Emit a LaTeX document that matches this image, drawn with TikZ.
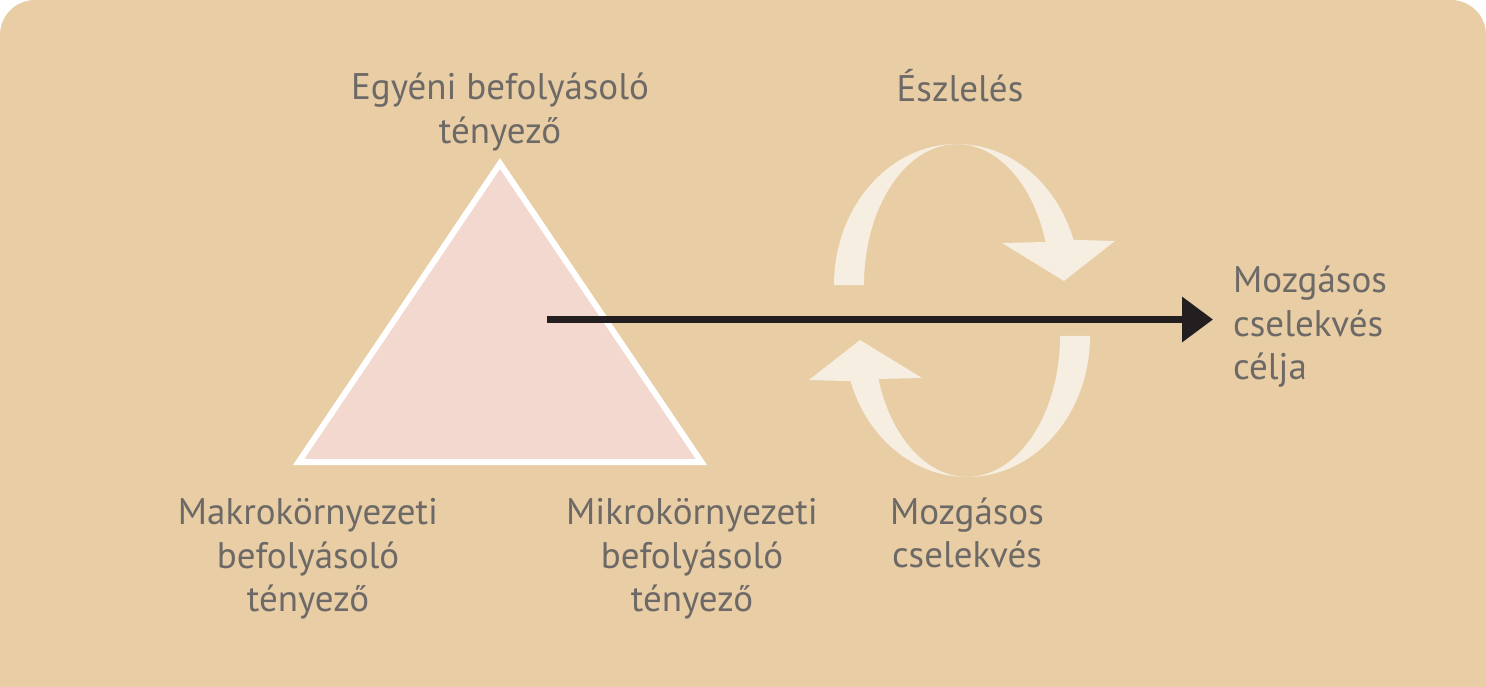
\documentclass[tikz,border=0pt]{standalone}
\usepackage{fontspec}
\setmainfont{PT Sans}
\usetikzlibrary{arrows.meta}

\definecolor{bgsand}{HTML}{E8CDA5}
\definecolor{trifill}{HTML}{F2D8CE}
\definecolor{cycfill}{HTML}{F6EEE1}
\definecolor{txtgray}{HTML}{6D6966}
\definecolor{arrblack}{HTML}{231F20}

\tikzset{
  lbl/.style={text=txtgray, font=\fontsize{37}{43.5}\selectfont, align=center, inner sep=0pt},
  cycarrow/.style={fill=cycfill}
}

\begin{document}
\begin{tikzpicture}[x=1pt, y=-1pt]
    \useasboundingbox (0,0) rectangle (1486,687);

    % background panel
    \begin{scope}
      \clip (0,0) rectangle (1486,687);
      \fill[bgsand, rounded corners=35pt] (0,0) rectangle (1486,760);
    \end{scope}

    % triangle of factors
    \coordinate (apex) at (500,163.5);
    \coordinate (bl) at (298.6,462);
    \coordinate (br) at (701.4,462);
    \draw[white, line width=6pt, fill=trifill] (apex) -- (bl) -- (br) -- cycle;

    % labels
    \node[lbl] (egyeni) at (500,112) {Egyéni befolyásoló\\tényező};
    \node[lbl] (makro) at (308,559) {Makrokörnyezeti\\befolyásoló\\tényező};
    \node[lbl] (mikro) at (692,559) {Mikrokörnyezeti\\befolyásoló\\tényező};
    \node[lbl, anchor=base] (eszleles) at (960,102) {Észlelés};
    \node[lbl] (mozgas) at (967,533) {Mozgásos\\cselekvés};
    \node[lbl, align=left, anchor=west] (cel) at (1233,327) {Mozgásos\\cselekvés\\célja};

    % cycle arrows
    \foreach \r in {0,180} {
      \begin{scope}[rotate around={\r:(962,310.5)}]
        \fill[cycarrow] (834,285)
          arc[start angle=180, end angle=341.3, x radius=123, y radius=141]
          -- (1115,241) -- (1064,281) -- (1002,243) -- (1045.5,242)
          arc[start angle=342.2, end angle=180, x radius=93, y radius=141]
          -- cycle;
      \end{scope}
    }

    % main arrow
    \coordinate (start) at (547,319.5);
    \draw[-{Triangle[length=31pt, width=44pt]}, line width=7pt, arrblack, shorten >=20pt]
      (start) -- (start -| cel.west);
\end{tikzpicture}
\end{document}
